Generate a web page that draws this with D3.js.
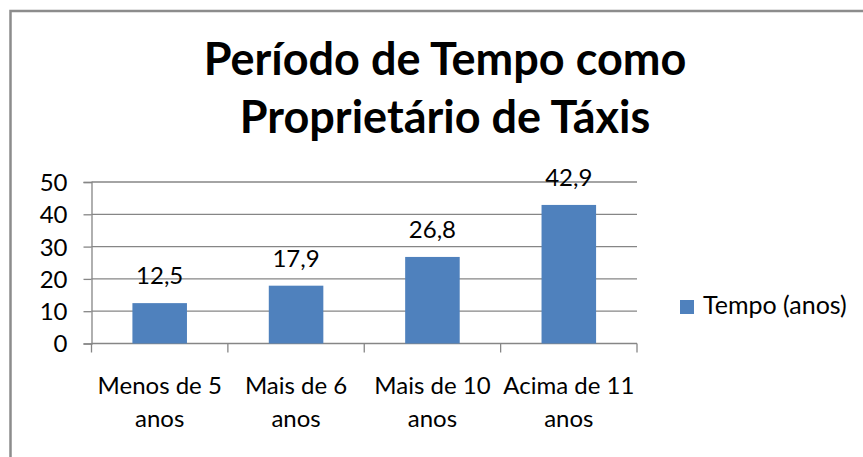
<!DOCTYPE html>
<html lang="pt">
<head>
<meta charset="UTF-8">
<title>Período de Tempo como Proprietário de Táxis</title>
<script src="https://cdn.jsdelivr.net/npm/d3@7"></script>
<style>
    html, body { margin: 0; padding: 0; background: #fff; overflow: hidden; }
    svg { display: block; font-family: Lato, "Open Sans", sans-serif; }
</style>
</head>
<body>
<div id="chart"></div>
<script>
    // dados do gráfico
    const categorias = [["Menos de 5", "anos"], ["Mais de 6", "anos"], ["Mais de 10", "anos"], ["Acima de 11", "anos"]];
    const valores = [12.5, 17.9, 26.8, 42.9];
    const rotulos = ["12,5", "17,9", "26,8", "42,9"];
    const yTicks = [0, 10, 20, 30, 40, 50];
    const serie = "Tempo (anos)";
    const titulo = ["Período de Tempo como", "Proprietário de Táxis"];

    const width = 863, height = 457;
    const cor = "#4F81BD";
    const cinza = "#868686";

    const svg = d3.select("#chart").append("svg")
        .attr("width", width)
        .attr("height", height);

    // moldura (cortada à direita e em baixo)
    svg.append("rect")
        .attr("x", 10.5).attr("y", 11)
        .attr("width", 900).attr("height", 500)
        .attr("fill", "none")
        .attr("stroke", "#8c8c8c")
        .attr("stroke-width", 2.5);

    // título
    svg.append("g")
        .attr("font-weight", "bold")
        .attr("font-size", 45)
        .attr("text-anchor", "middle")
        .selectAll("text")
        .data(titulo)
        .join("text")
        .attr("x", 445)
        .attr("y", (d, i) => 75 + i * 58)
        .text(d => d);

    const x = d3.scaleBand()
        .domain(categorias.map(d => d[0]))
        .range([91.5, 637])
        .paddingInner(0.6)
        .paddingOuter(0.3);

    const y = d3.scaleLinear()
        .domain([0, 50])
        .range([343.5, 182]);

    // linhas de grade
    svg.append("g")
        .selectAll("line")
        .data(yTicks.slice(1))
        .join("line")
        .attr("x1", 91.5).attr("x2", 637)
        .attr("y1", d => y(d)).attr("y2", d => y(d))
        .attr("stroke", cinza)
        .attr("stroke-width", 1.3);

    // eixo y
    const yAxis = svg.append("g")
        .attr("transform", "translate(91.5,0)")
        .call(d3.axisLeft(y).tickValues(yTicks).tickSize(8).tickPadding(16));
    yAxis.select(".domain").attr("stroke", cinza).attr("stroke-width", 1.3);
    yAxis.selectAll(".tick line").attr("stroke", cinza).attr("stroke-width", 1.3);
    yAxis.selectAll(".tick text")
        .attr("font-size", 24)
        .attr("font-family", "Lato, sans-serif")
        .attr("fill", "#000")
        .attr("dy", "0.35em");

    // eixo x
    const step = x.step();
    const limites = categorias.map(d => x(d[0]) - step * 0.3).concat([x(categorias[3][0]) + x.bandwidth() + step * 0.3]);
    svg.append("line")
        .attr("x1", 91.5).attr("x2", 637)
        .attr("y1", y(0)).attr("y2", y(0))
        .attr("stroke", cinza).attr("stroke-width", 1.3);
    svg.append("g")
        .selectAll("line")
        .data(limites)
        .join("line")
        .attr("x1", d => d).attr("x2", d => d)
        .attr("y1", y(0)).attr("y2", y(0) + 9)
        .attr("stroke", cinza).attr("stroke-width", 1.3);

    svg.append("g")
        .attr("font-size", 24)
        .attr("text-anchor", "middle")
        .selectAll("text")
        .data(categorias)
        .join("text")
        .attr("transform", d => `translate(${x(d[0]) + x.bandwidth() / 2},0)`)
        .call(t => t.append("tspan").attr("x", 0).attr("y", 394).text(d => d[0]))
        .call(t => t.append("tspan").attr("x", 0).attr("y", 427).text(d => d[1]));

    // barras
    svg.append("g")
        .selectAll("rect")
        .data(valores)
        .join("rect")
        .attr("x", (d, i) => x(categorias[i][0]))
        .attr("y", d => y(d))
        .attr("width", x.bandwidth())
        .attr("height", d => y(0) - y(d))
        .attr("fill", cor);

    // rótulos de dados
    svg.append("g")
        .attr("font-size", 24)
        .attr("text-anchor", "middle")
        .selectAll("text")
        .data(valores)
        .join("text")
        .attr("x", (d, i) => x(categorias[i][0]) + x.bandwidth() / 2)
        .attr("y", d => y(d) - 19)
        .text((d, i) => rotulos[i]);

    // legenda
    const leg = svg.append("g").attr("transform", "translate(680,300)");
    leg.append("rect").attr("width", 14).attr("height", 14).attr("fill", cor);
    leg.append("text").attr("x", 23).attr("y", 14).attr("font-size", 25).text(serie);
</script>
</body>
</html>
